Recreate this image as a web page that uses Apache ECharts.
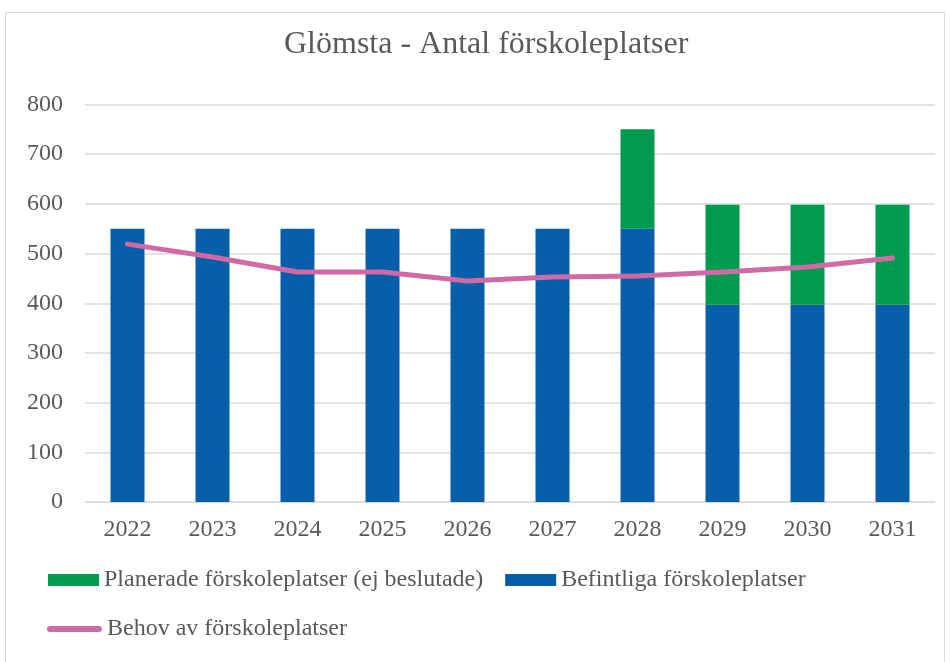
<!DOCTYPE html>
<html><head><meta charset="utf-8">
<script src="https://cdn.jsdelivr.net/npm/echarts@6/dist/echarts.min.js"></script>
<style>html,body{margin:0;padding:0;background:#fff}#c{width:950px;height:662px}</style>
</head><body><div id="c"></div>
<script>
const categories = ['2022','2023','2024','2025','2026','2027','2028','2029','2030','2031'];
const befintliga = [550,550,550,550,550,550,550,397,397,397];
const planerade = [0,0,0,0,0,0,200,201,201,201];
const behov = [519,493,463,463,445,453,455,463,473,491];
const yTicks = [0,100,200,300,400,500,600,700,800];

const font = '"Liberation Serif","Times New Roman",serif';
const txt = '#595959';
const chart = echarts.init(document.getElementById('c'));
chart.setOption({
  animation:false,
  backgroundColor:'#fff',
  textStyle:{fontFamily:font},
  graphic:[{type:'rect',shape:{x:5.5,y:12.5,width:939,height:660},style:{fill:'none',stroke:'#d9d9d9',lineWidth:1},silent:true}],
  title:{text:'Glömsta - Antal förskoleplatser',left:279,top:24,textStyle:{fontFamily:font,fontSize:32,fontWeight:'normal',color:txt}},
  grid:{left:85,right:15,top:104.5,bottom:160,containLabel:false},
  legend:[
    {data:[{name:'Planerade förskoleplatser (ej beslutade)',icon:'rect'},{name:'Befintliga förskoleplatser',icon:'rect'}],left:43,top:563,itemWidth:51,itemHeight:12,itemGap:22,
     textStyle:{fontFamily:font,fontSize:24,color:txt}},
    {data:[{name:'Behov av förskoleplatser',icon:'path://M3,0 L52,0 A3,3 0 0 1 52,6 L3,6 A3,3 0 0 1 3,0 Z'}],left:42,top:612,itemWidth:55,itemHeight:6,
     textStyle:{fontFamily:font,fontSize:24,color:txt}}
  ],
  xAxis:{type:'category',data:categories,
    axisLine:{show:true,lineStyle:{color:'#d9d9d9',width:1}},axisTick:{show:false},
    axisLabel:{fontFamily:font,fontSize:24,color:txt,margin:16}},
  yAxis:{type:'value',min:0,max:800,interval:100,
    axisLine:{show:false},axisTick:{show:false},
    splitLine:{lineStyle:{color:'#d9d9d9',width:1.5}},
    axisLabel:{fontFamily:font,fontSize:24,color:txt,margin:22,
      formatter:v=>yTicks.includes(v)?String(v):''}},
  series:[
    {name:'Befintliga förskoleplatser',type:'bar',stack:'s',data:befintliga,barWidth:34,itemStyle:{color:'#075FAA'},z:2},
    {name:'Planerade förskoleplatser (ej beslutade)',type:'bar',stack:'s',data:planerade,barWidth:34,itemStyle:{color:'#009B4E'},z:2},
    {name:'Behov av förskoleplatser',type:'line',data:behov,symbol:'none',showSymbol:false,
      lineStyle:{color:'#CF6AA6',width:5,cap:'round',join:'round'},itemStyle:{color:'#CF6AA6'},z:5}
  ]
});
</script></body></html>
